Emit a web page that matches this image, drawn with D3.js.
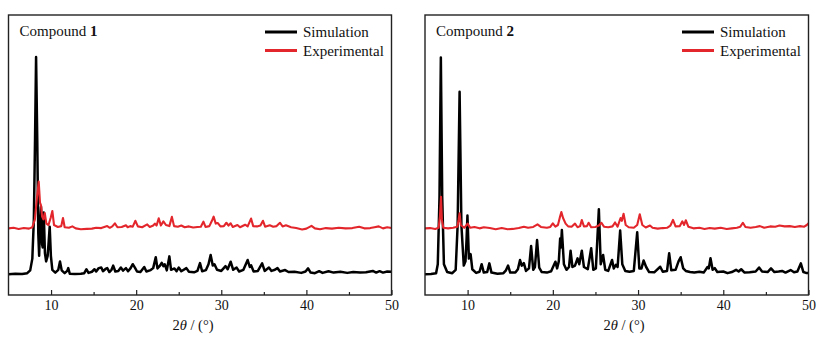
<!DOCTYPE html>
<html>
<head>
<meta charset="utf-8">
<script src="https://cdn.jsdelivr.net/npm/d3@7"></script>
<style>
  body { margin: 0; background: #fff; }
  text { font-family: "Liberation Serif", "Times New Roman", serif; fill: #111; }
</style>
</head>
<body>
<div id="chart"></div>
<script>
// Tick values along 2-theta
const majorTicks = [10, 20, 30, 40, 50];
const minorTicks = [15, 25, 35, 45];

// Compound 1, simulated pattern [2theta, intensity]
const sim1 = [[5.0,7.4],[5.8,7.6],[6.6,7.5],[7.2,7.8],[7.55,8.8],[7.8,13],[7.98,27],[8.12,56],[8.24,85],[8.38,55],[8.5,22],[8.6,14],[8.7,24],[8.82,31.5],[8.95,18],[9.02,17],[9.14,29.5],[9.28,15],[9.42,12],[9.6,14],[9.72,19],[9.84,24.4],[9.98,14],[10.15,9],[10.5,8],[10.85,9],[11.05,12],[11.25,8.8],[11.6,7.8],[11.9,8.6],[12.02,9.6],[12.2,7.6],[12.8,7.5],[13.5,7.6],[13.9,7.8],[14.15,9.2],[14.4,7.9],[14.8,8.3],[15.1,9.2],[15.3,8.4],[15.6,9.6],[15.9,9.8],[16.1,8.5],[16.4,9.3],[16.6,9.6],[16.85,8.2],[17.1,9],[17.3,10.5],[17.55,8.4],[17.9,8.6],[18.2,9.8],[18.45,8.7],[18.8,9.6],[19.05,8.5],[19.35,9.6],[19.6,11],[19.85,9.8],[20.1,8.4],[20.5,8.2],[20.95,10],[21.2,8.4],[21.7,8.9],[22.0,9.6],[22.3,13.5],[22.5,9.5],[22.8,10.5],[23.0,11.5],[23.2,10.3],[23.35,11],[23.6,8.8],[23.9,13.8],[24.1,9],[24.5,9.5],[24.75,8.5],[25.0,9.8],[25.3,8.5],[25.9,9.6],[26.2,8.3],[26.8,8.1],[27.2,8.6],[27.5,11.4],[27.75,8.5],[28.2,8.9],[28.5,11],[28.75,14.3],[29.0,10.5],[29.2,11],[29.5,9],[30.0,8.6],[30.5,10.3],[30.75,9.2],[31.1,11.9],[31.4,9],[31.8,9.8],[32.1,8.4],[32.6,9],[33.1,12.5],[33.35,10],[33.5,10.6],[33.8,8.4],[34.3,8.6],[34.8,11.3],[35.1,8.6],[35.6,9.8],[35.9,8.6],[36.3,9],[36.6,9.6],[36.9,8.4],[37.5,8.9],[37.9,8.2],[38.6,8.3],[39.4,7.9],[39.9,8.4],[40.2,9.5],[40.5,8],[41.0,7.8],[41.5,8.5],[41.9,7.9],[42.6,8.5],[43.2,8],[44.0,8.3],[44.8,7.9],[45.5,8.2],[46.3,8],[47.0,8.1],[47.8,8.6],[48.2,8],[48.6,8.5],[49.0,8],[49.5,8.4],[50,8.3]];

// Compound 1, experimental pattern
const exp1 = [[5.0,23.8],[5.6,24],[6.2,23.6],[6.8,23.9],[7.4,23.7],[7.8,24.2],[8.1,27],[8.35,35],[8.55,40.5],[8.7,33],[8.82,32],[8.95,28],[9.1,27],[9.26,29.3],[9.45,25.5],[9.7,25],[9.95,27.5],[10.15,30],[10.35,25],[10.8,24.3],[11.2,24.6],[11.4,27.5],[11.6,24.2],[12.1,24],[12.5,24.5],[12.9,23.8],[13.5,23.5],[14.2,23.6],[14.8,23.7],[15.3,24],[15.9,23.9],[16.6,24.6],[16.9,24],[17.2,24.5],[17.5,25.6],[17.8,24.2],[18.3,24.3],[18.8,24.9],[19.0,24.2],[19.3,24.6],[19.6,24.4],[19.9,26.5],[20.2,24.5],[20.7,24.2],[21.3,25.2],[21.6,24.3],[22.0,24.8],[22.2,25.5],[22.4,24.8],[22.65,27.4],[22.9,24.8],[23.2,26.3],[23.5,25],[23.9,24.6],[24.2,27.9],[24.45,24.6],[24.9,24.4],[25.3,24.8],[25.7,24.2],[26.2,24.5],[26.7,24.1],[27.2,24.3],[27.6,24.4],[27.9,26.2],[28.15,24.3],[28.6,24.6],[28.9,26.5],[29.1,28],[29.35,25.5],[29.6,25.7],[29.9,24.5],[30.3,24.6],[30.6,25.8],[30.85,24.8],[31.1,25.6],[31.35,24.3],[31.9,25],[32.2,24.2],[32.8,25.1],[33.1,24.5],[33.5,27.3],[33.75,24.6],[34.2,24.5],[34.6,24.8],[34.9,26.5],[35.15,24.4],[35.7,24.9],[36.1,24.4],[36.5,24.6],[36.9,25.8],[37.2,24.5],[37.6,24.9],[38.2,24.2],[38.8,23.9],[39.5,23.4],[40.0,23.7],[40.6,24.7],[41.0,23.8],[41.6,23.5],[42.3,23.9],[43.0,23.7],[43.8,24],[44.6,23.8],[45.4,23.9],[46.2,24.4],[46.8,23.8],[47.5,23.9],[48.0,24.2],[48.5,24.5],[49.0,23.8],[49.5,24.2],[50,23.9]];

// Compound 2, simulated pattern
const sim2 = [[5.0,7.4],[5.7,7.5],[6.3,7.8],[6.5,11],[6.7,35],[6.86,84.8],[7.02,35],[7.22,11],[7.6,8.2],[8.2,7.8],[8.6,9],[8.83,25],[9.06,72.6],[9.27,25],[9.55,10.5],[9.75,12],[9.88,20],[9.98,28.4],[10.15,13],[10.35,14.6],[10.55,9.2],[11.0,7.9],[11.4,8.3],[11.65,11],[11.9,8],[12.3,8.2],[12.55,11.3],[12.8,8],[13.5,7.6],[14.2,7.8],[14.5,8.8],[14.75,10.5],[15.0,8],[15.6,8],[15.9,9.2],[16.15,12.5],[16.35,10.5],[16.6,11.4],[16.85,8.6],[17.2,9.5],[17.45,17.5],[17.7,9],[17.9,10],[18.15,19.6],[18.4,9.8],[18.7,8.2],[19.3,8],[19.8,8.5],[20.1,10.5],[20.3,11.9],[20.5,9.5],[20.7,12],[20.86,20.2],[20.95,17],[21.06,23.2],[21.3,11],[21.6,9],[21.9,10],[22.08,15.8],[22.3,10],[22.6,10.5],[22.9,13.1],[23.1,11],[23.4,15.8],[23.65,10],[24.1,9.2],[24.5,16.7],[24.75,9],[25.05,9.5],[25.4,30.6],[25.62,11],[25.9,14.3],[26.15,9],[26.5,8.6],[26.95,12.5],[27.15,9.5],[27.4,10.8],[27.6,10],[27.9,23],[28.15,11],[28.5,8.6],[29.0,8.3],[29.5,8.6],[29.9,22.4],[30.15,9.5],[30.4,9.5],[30.65,12.3],[30.95,10],[31.3,8.2],[31.9,8.1],[32.6,10.1],[32.9,8.3],[33.4,8.6],[33.65,14.9],[33.9,8.8],[34.4,9],[34.75,12],[35.0,13.5],[35.3,9.5],[35.6,8.6],[36.1,8.2],[36.6,8],[37.2,8.3],[37.7,8],[38.15,10],[38.3,9.5],[38.5,13.1],[38.75,9],[39.0,9.6],[39.3,8.2],[40.0,8.4],[40.5,7.8],[41.0,8.2],[41.5,9],[41.8,8.4],[42.1,9.2],[42.5,8],[43.1,8.1],[43.8,8.4],[44.2,9.8],[44.55,8.4],[45.2,8.2],[45.6,9.5],[46.0,8.2],[46.5,8.4],[46.9,8.6],[47.3,8],[47.9,8.9],[48.3,8.1],[48.7,8.4],[49.1,11.3],[49.4,8.2],[49.7,7.9],[50,7.9]];

// Compound 2, experimental pattern
const exp2 = [[5.0,23.8],[5.6,23.9],[6.2,23.6],[6.6,24],[6.75,28],[6.88,35.1],[6.98,27],[7.15,24],[7.7,23.8],[8.3,24],[8.8,24.4],[8.95,27],[9.06,29.2],[9.2,25],[9.6,24],[10.0,25.5],[10.3,24],[10.8,24.3],[11.4,23.8],[11.9,24.2],[12.6,23.9],[13.3,23.5],[14.0,23.9],[14.7,23.5],[15.3,23.6],[16.0,23.9],[16.6,24.4],[17.1,24],[17.7,24.3],[18.2,25.2],[18.6,24.3],[19.3,24],[19.7,24.3],[20.0,25.6],[20.3,24.4],[20.6,25],[20.85,28],[21.0,29.6],[21.2,27.5],[21.5,25.5],[21.8,24.5],[22.2,24.4],[22.6,25.5],[22.9,24.2],[23.2,24.6],[23.4,26.8],[23.65,24.5],[24.0,24.6],[24.2,25.8],[24.5,24.2],[25.0,24.3],[25.4,24.8],[25.7,25.8],[26.0,24.4],[26.5,24.2],[27.0,24.5],[27.3,25.9],[27.6,24.4],[27.95,27.5],[28.1,26.5],[28.3,29],[28.55,25],[28.9,24.2],[29.5,24],[29.9,25],[30.2,28.8],[30.5,25],[30.9,24.1],[31.4,24.8],[31.7,24],[32.3,23.7],[32.9,23.9],[33.4,24],[33.8,24.8],[34.1,26.8],[34.4,24.5],[34.9,24.6],[35.2,26.3],[35.4,25],[35.6,26.7],[35.9,24.4],[36.5,23.8],[37.2,24],[37.8,23.6],[38.4,23.9],[39.0,23.7],[39.7,24],[40.4,23.6],[41.0,23.8],[41.6,24],[42.0,24.4],[42.3,25.8],[42.6,24.3],[43.2,24],[43.8,24.3],[44.3,24.6],[44.8,24],[45.5,24.5],[46.1,24.4],[46.6,24.8],[47.2,24.5],[47.8,24.6],[48.4,24.3],[49.0,24.6],[49.5,24.4],[49.8,25],[50,25.6]];

const seriesNames = ["Simulation", "Experimental"];
const seriesColors = ["#000000", "#e3262b"];

const svg = d3.select("#chart")
  .append("svg")
    .attr("width", 833)
    .attr("height", 341);

function drawPanel(opts) {
  const top = 15, bottom = 295;

  const x = d3.scaleLinear()
    .domain([5, 50])
    .range([opts.left, opts.right]);
  const y = d3.scaleLinear()
    .domain([0, 100])
    .range([bottom, top]);

  const g = svg.append("g");

  // curves
  const line = d3.line()
    .x(d => x(d[0]))
    .y(d => y(d[1]));

  g.append("path")
    .datum(opts.sim)
    .attr("fill", "none")
    .attr("stroke", seriesColors[0])
    .attr("stroke-width", 2.5)
    .attr("stroke-linejoin", "round")
    .attr("d", line);

  g.append("path")
    .datum(opts.exp)
    .attr("fill", "none")
    .attr("stroke", seriesColors[1])
    .attr("stroke-width", 2.1)
    .attr("stroke-linejoin", "round")
    .attr("d", line);

  // bottom axis, ticks inward
  g.append("g")
    .attr("transform", `translate(0,${bottom})`)
    .call(d3.axisBottom(x).tickValues(majorTicks).tickSize(-5).tickPadding(5))
    .call(a => a.select(".domain").remove())
    .call(a => a.selectAll("line").attr("stroke", "#222").attr("stroke-width", 1.2))
    .call(a => a.selectAll("text")
      .style("font-family", "'Liberation Serif', serif")
      .style("font-size", "14px")
      .attr("fill", "#111"));

  g.append("g")
    .attr("transform", `translate(0,${bottom})`)
    .call(d3.axisBottom(x).tickValues(minorTicks).tickSize(-3).tickFormat(""))
    .call(a => a.select(".domain").remove())
    .call(a => a.selectAll("line").attr("stroke", "#222").attr("stroke-width", 1.2));

  // frame
  g.append("rect")
    .attr("x", opts.left)
    .attr("y", top)
    .attr("width", opts.right - opts.left)
    .attr("height", bottom - top)
    .attr("fill", "none")
    .attr("stroke", "#222")
    .attr("stroke-width", 1.4);

  // axis title
  const t = g.append("text")
    .attr("x", opts.titleX)
    .attr("y", 330)
    .attr("text-anchor", "middle")
    .style("font-size", "14.5px");
  t.append("tspan").text("2");
  t.append("tspan").style("font-style", "italic").text("θ");
  t.append("tspan").text(" / (°)");

  // compound label
  const c = g.append("text")
    .attr("x", opts.left + 11)
    .attr("y", 36)
    .style("font-size", "15px");
  c.append("tspan").text("Compound ");
  c.append("tspan").style("font-weight", "bold").text(opts.number);

  // legend
  const legend = g.append("g")
    .attr("transform", `translate(${opts.legendX},0)`);
  seriesNames.forEach((name, i) => {
    const ly = 32 + i * 18.5;
    legend.append("line")
      .attr("x1", 0).attr("x2", 32)
      .attr("y1", ly).attr("y2", ly)
      .attr("stroke", seriesColors[i])
      .attr("stroke-width", 3);
    legend.append("text")
      .attr("x", 38)
      .attr("y", ly + 5)
      .style("font-size", "15px")
      .text(name);
  });
}

drawPanel({left: 8.5, right: 391.5, sim: sim1, exp: exp1, number: "1", titleX: 193, legendX: 265});
drawPanel({left: 425, right: 808.5, sim: sim2, exp: exp2, number: "2", titleX: 624, legendX: 682});
</script>
</body>
</html>
